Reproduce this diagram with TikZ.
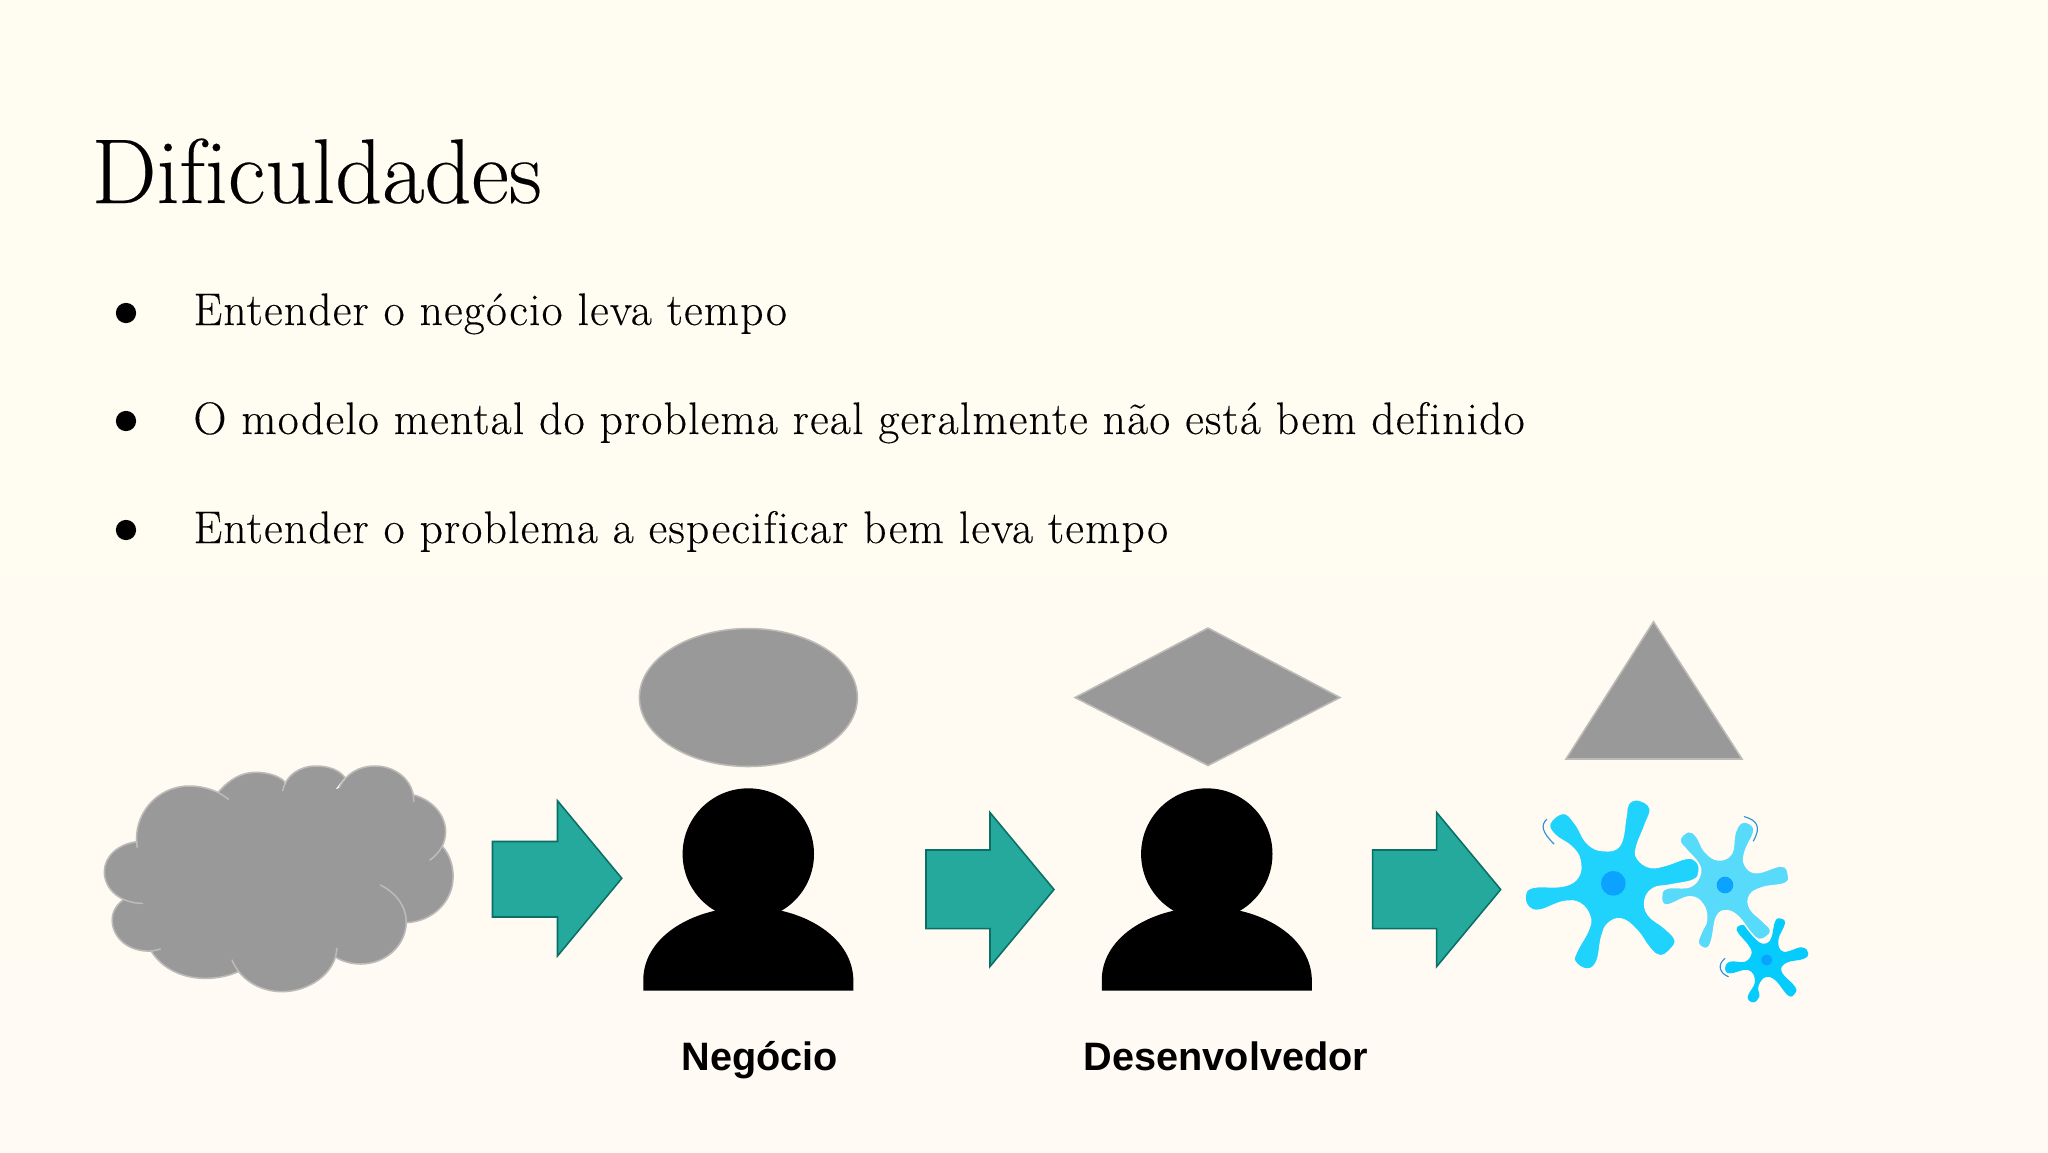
\documentclass[tikz,border=0pt]{standalone}
\usepackage{fontspec}
\newfontfamily\boldsans{Liberation Sans}
\newfontfamily\bodyfont{Latin Modern Roman}[LetterSpace=2.7,Ligatures=NoCommon,FakeBold=0.25]
\newfontfamily\titlefont{Latin Modern Roman}[Ligatures=NoCommon,FakeBold=0.2]
\definecolor{bgA}{HTML}{FFFDF1}
\definecolor{bgB}{HTML}{FFFAF3}
\definecolor{shapegray}{HTML}{9A999A}
\definecolor{shapeedge}{HTML}{BDBBB8}
\definecolor{teal}{HTML}{24A99C}
\definecolor{tealedge}{HTML}{0B6F66}
\definecolor{germA}{HTML}{1FD3FC}
\definecolor{germB}{HTML}{58DBFA}
\definecolor{germC}{HTML}{06CBFD}
\definecolor{germN}{HTML}{0CA2FF}
\definecolor{squig}{HTML}{2F8FD6}
\tikzset{
 titletext/.style={anchor=base west,inner sep=0pt,font=\titlefont\fontsize{32.7}{40}\selectfont},
 bodytext/.style={anchor=base west,inner sep=0pt,font=\bodyfont\fontsize{16.2}{18}\selectfont},
 bulletdot/.style={circle,fill=black,inner sep=0pt,minimum size=7.2pt},
 labeltext/.style={anchor=base,inner sep=0pt,font=\boldsans\bfseries\fontsize{14.1}{16}\selectfont},
 grayshape/.style={fill=shapegray,draw=shapeedge,line width=0.55pt},
 arrowshape/.style={fill=teal,draw=tealedge,line width=0.55pt,line join=miter},
 lobe/.style={draw=shapeedge,line width=0.55pt,line cap=round},
 squiggle/.style={draw=squig,line width=0.4pt,line cap=round},
}
\newcommand{\personfig}[1]{%
 \begin{scope}[shift={(#1,0)}]
 \fill[black] (748.3,854) circle[radius=65.7];
 \fill[black] (643.3,990.7) -- (643.3,978) .. controls (645,935) and (695,907) .. (748.3,907) .. controls (801,907) and (851,935) .. (853.3,978) -- (853.3,990.7) -- cycle;
 \end{scope}}
\newcommand{\arrowfig}[1]{%
 \begin{scope}[shift={(#1,0)}]
 \draw[arrowshape] (926,850) -- (990,850) -- (990,812.5) -- (1054,889.5) -- (990,966.5) -- (990,928.6) -- (926,928.6) -- cycle;
 \end{scope}}
\begin{document}
\begin{tikzpicture}[x=0.0125cm,y=-0.0125cm]
\useasboundingbox (0,0) rectangle (2048,1152);
\shade[top color=bgA,bottom color=bgB] (0,0) rectangle (2048,1152);

\node[titletext] (title) at (91,203) {Dificuldades};
\node[bulletdot] (b1) at (126,313) {};
\node[bulletdot] (b2) at (126,421) {};
\node[bulletdot] (b3) at (126,530) {};
\node[bodytext] (t1) at (193,325) {Entender o negócio leva tempo};
\node[bodytext] (t2) at (193,434) {O modelo mental do problema real geralmente não está bem definido};
\node[bodytext] (t3) at (193,543) {Entender o problema a especificar bem leva tempo};

% cloud (coordinates of the zoomed crop)
\begin{scope}[shift={(80,740)},x=0.0044643cm,y=-0.0041667cm]
 \def\la{(160,322) .. controls (145,225) and (215,138) .. (305,138) .. controls (350,138) and (390,155) .. (415,178)}
 \def\lb{(388,155) .. controls (420,115) and (455,97) .. (490,97) .. controls (525,97) and (555,107) .. (572,125)}
 \def\lc{(567,152) .. controls (575,105) and (615,78) .. (660,78) .. controls (695,78) and (725,90) .. (740,112)}
 \def\ld{(725,142) .. controls (745,100) and (780,78) .. (825,78) .. controls (885,78) and (935,125) .. (933,185)}
 \def\le{(933,165) .. controls (985,180) and (1022,225) .. (1022,275) .. controls (1022,310) and (1005,340) .. (978,360)}
 \def\lf{(1012,318) .. controls (1035,345) and (1043,380) .. (1043,410) .. controls (1043,485) and (985,545) .. (912,548)}
 \def\lg{(840,435) .. controls (885,460) and (912,500) .. (912,545) .. controls (912,615) and (855,672) .. (785,672) .. controls (760,672) and (735,665) .. (715,652)}
 \def\lh{(718,625) .. controls (715,700) and (640,755) .. (565,755) .. controls (500,755) and (445,715) .. (425,660)}
 \def\li{(442,695) .. controls (415,708) and (385,715) .. (350,715) .. controls (285,715) and (230,685) .. (200,635)}
 \def\lj{(225,627) .. controls (210,632) and (198,634) .. (185,633) .. controls (130,630) and (90,590) .. (90,540) .. controls (90,515) and (102,495) .. (120,480)}
 \def\lk{(175,490) .. controls (115,490) and (68,450) .. (68,395) .. controls (68,350) and (105,312) .. (160,305)}
 \foreach \l in {\la,\lb,\lc,\ld,\le,\lf,\lg,\lh,\li,\lj,\lk}{\fill[shapegray] (530,400) -- \l -- cycle;}
 \fill[shapegray] (200,340) -- (400,180) -- (570,160) -- (730,145) -- (930,200) -- (985,350) -- (880,520) -- (715,630) -- (430,650) -- (210,610) -- (150,470) -- cycle;
 \foreach \l in {\la,\lb,\lc,\ld,\le,\lf,\lg,\lh,\li,\lj,\lk}{\draw[lobe] \l;}
\end{scope}

\draw[arrowshape] (492.5,841.5) -- (557.5,841.5) -- (557.5,800.7) -- (621.8,878.3) -- (557.5,956) -- (557.5,917) -- (492.5,917) -- cycle;
\arrowfig{0}
\arrowfig{446.7}

\personfig{0}
\personfig{458.5}

\draw[grayshape] (748.4,697.5) ellipse[x radius=109,y radius=69];
\draw[grayshape] (1075,697.5) -- (1208,628) -- (1340,697.5) -- (1208,765.5) -- cycle;
\draw[grayshape] (1653.5,621.7) -- (1742,759) -- (1566,759) -- cycle;

% germs (coordinates of the zoomed crop)
\begin{scope}[shift={(1500,780)},x=0.0041667cm,y=-0.0041667cm]
 \fill[germC] plot[smooth cycle,tension=0.7] coordinates {(710,450)(730,435)(750,455)(775,485)(800,490)(815,470)(825,425)(840,415)(855,430)(835,480)(850,515)(905,502)(925,520)(910,537)(860,548)(845,575)(885,620)(885,640)(865,647)(825,600)(795,592)(775,620)(778,650)(760,667)(743,650)(765,605)(745,570)(690,580)(675,565)(690,545)(735,545)(755,520)(745,495)};
 \fill[germN] (800,540) circle[radius=17];
 \filldraw[fill=germB,draw=bgB,line width=0.5pt] plot[smooth cycle,tension=0.7] coordinates {(540,180)(565,155)(590,170)(615,215)(655,240)(695,220)(705,160)(725,128)(755,135)(760,160)(735,215)(735,255)(770,278)(845,258)(865,285)(855,310)(790,322)(750,345)(750,385)(790,425)(812,450)(800,470)(775,478)(750,455)(715,410)(680,392)(650,410)(635,480)(620,505)(595,490)(605,455)(620,420)(610,375)(570,350)(500,375)(485,350)(500,325)(570,320)(600,285)(595,250)(560,210)};
 \fill[germN] (675,315) circle[radius=25];
 \filldraw[fill=germA,draw=bgB,line width=0.5pt] plot[smooth cycle,tension=0.7] coordinates {(150,130)(190,100)(225,130)(262,190)(310,212)(360,195)(378,110)(385,72)(415,60)(450,85)(435,135)(410,200)(412,235)(450,262)(500,255)(560,235)(590,245)(597,275)(580,300)(510,315)(460,325)(435,360)(445,405)(495,445)(525,480)(510,510)(480,527)(450,505)(410,450)(365,417)(325,430)(305,470)(290,545)(260,567)(225,545)(230,515)(265,450)(270,410)(240,370)(190,365)(120,390)(85,380)(76,345)(100,322)(190,318)(235,290)(240,240)(215,200)(165,165)};
 \fill[germN] (340,310) circle[radius=37];
 \draw[squiggle] (140,118) .. controls (122,135) and (125,155) .. (162,192);
 \draw[squiggle] (733,110) .. controls (770,120) and (785,140) .. (760,183);
 \draw[squiggle] (675,535) .. controls (650,555) and (660,580) .. (685,590);
\end{scope}

\node[labeltext] (neg) at (760,1070) {Negócio};
\node[labeltext] (des) at (1226,1070) {Desenvolvedor};
\end{tikzpicture}
\end{document}
